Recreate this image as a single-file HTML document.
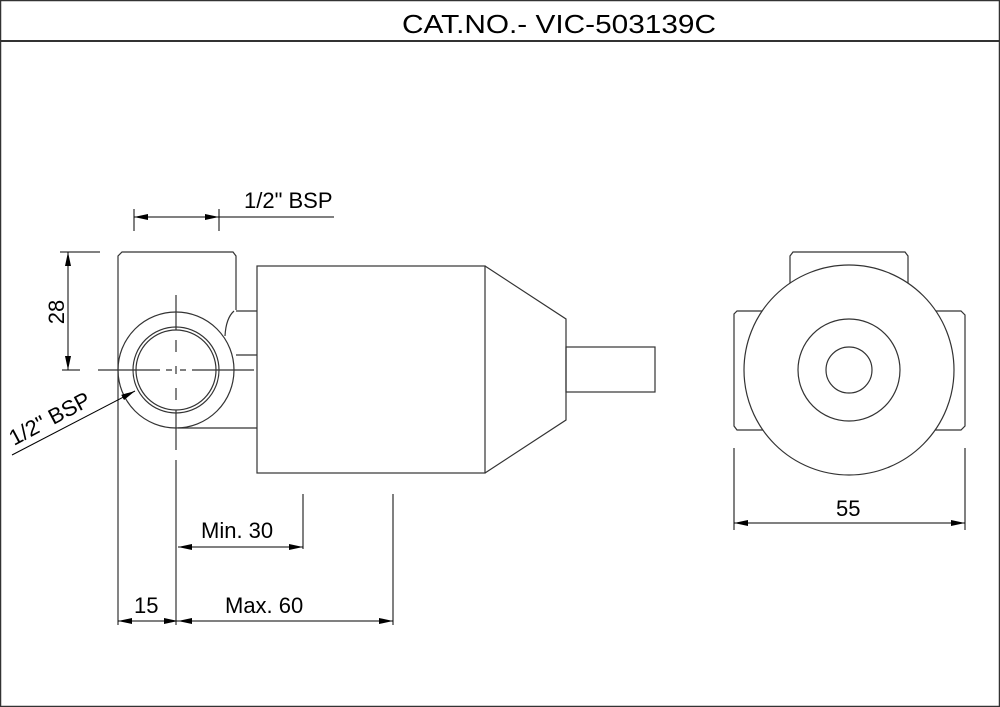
<!DOCTYPE html>
<html><head><meta charset="utf-8"><style>html,body{margin:0;padding:0;background:#fff}svg{display:block}</style></head>
<body>
<svg width="1000" height="707" viewBox="0 0 1000 707" xmlns="http://www.w3.org/2000/svg">
<defs>
<marker id="a" viewBox="0 0 14 6" refX="14" refY="3" markerWidth="14" markerHeight="6" orient="auto-start-reverse" markerUnits="userSpaceOnUse"><path d="M0,0L14,3L0,6z" fill="#000"/></marker>
</defs>
<g fill="none" stroke="#333" stroke-width="1.2">
<rect x="0.5" y="0.5" width="999" height="706" stroke-width="1.5"/>
<line x1="0" y1="41" x2="1000" y2="41" stroke-width="2"/>
<path d="M118,625 V256 L122,252 H233 L236,256 V310"/>
<path d="M236,311 H257 M234,311 Q226,318 225,336"/>
<line x1="236" y1="355" x2="257" y2="355"/>
<line x1="178" y1="428" x2="257" y2="428"/>
<circle cx="176" cy="370" r="58"/>
<circle cx="176" cy="370" r="43"/>
<circle cx="176" cy="370" r="40"/>
<path d="M176,295 V330 M176,340 V352 M176,366 V374 M176,388 V400 M176,410 V450 M176,460 V625"/>
<path d="M98,370 H160 M166,370 H172 M180,370 H186 M192,370 H254"/>
<rect x="257" y="266" width="228" height="207"/>
<path d="M485,266 L566,319 V420 L485,473"/>
<rect x="566" y="347" width="89" height="45"/>
<path d="M790,290 V256 L793,252 H905 L908,256 V290"/>
<path d="M765,311 H737 L734,314 V426 L737,430 H765"/>
<path d="M933,311 H961 L965,315 V426 L961,430 H933"/>
<circle cx="849" cy="370" r="105" fill="#fff"/>
<circle cx="849" cy="370" r="51"/>
<circle cx="849" cy="370" r="23"/>
</g>
<g fill="none" stroke="#000" stroke-width="1">
<path d="M134,209 V231 M219,209 V231"/>
<line x1="134" y1="217" x2="219" y2="217" marker-start="url(#a)" marker-end="url(#a)"/>
<line x1="219" y1="217" x2="334" y2="217"/>
<path d="M60,252 H100 M62,370 H80"/>
<line x1="68" y1="252" x2="68" y2="370" marker-start="url(#a)" marker-end="url(#a)"/>
<line x1="12" y1="455" x2="135" y2="391" marker-end="url(#a)"/>
<line x1="303" y1="494" x2="303" y2="549"/>
<line x1="178" y1="547" x2="303" y2="547" marker-start="url(#a)" marker-end="url(#a)"/>
<line x1="393" y1="494" x2="393" y2="625"/>
<line x1="178" y1="621" x2="393" y2="621" marker-start="url(#a)" marker-end="url(#a)"/>
<line x1="118" y1="621" x2="178" y2="621" marker-start="url(#a)" marker-end="url(#a)"/>
<path d="M734,448 V530 M965,448 V530"/>
<line x1="734" y1="523" x2="965" y2="523" marker-start="url(#a)" marker-end="url(#a)"/>
</g>
<g font-family="'Liberation Sans', sans-serif" fill="#000" font-size="22">
<text x="402" y="33" font-size="26" textLength="314" lengthAdjust="spacingAndGlyphs">CAT.NO.- VIC-503139C</text>
<text x="244" y="208">1/2" BSP</text>
<text transform="translate(64,312) rotate(-90)" text-anchor="middle">28</text>
<text transform="translate(14,446) rotate(-28)">1/2" BSP</text>
<text x="201" y="538">Min. 30</text>
<text x="134" y="613">15</text>
<text x="225" y="613">Max. 60</text>
<text x="836" y="516">55</text>
</g>
</svg>
</body></html>
